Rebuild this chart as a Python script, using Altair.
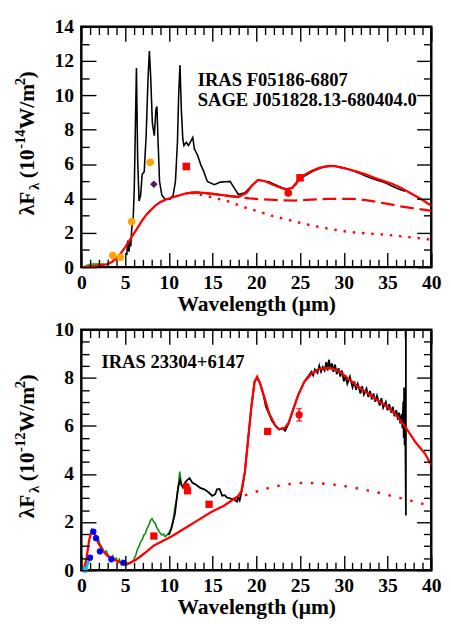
import altair as alt
import pandas as pd

# ---------------- top panel (IRAS F05186-6807) ----------------
spec1_x = [5.2, 5.3, 5.45, 5.55, 5.65, 5.77, 5.92, 6.05, 6.15, 6.3, 6.44, 6.6, 6.78, 6.96, 7.19, 7.41,
           7.63, 7.78, 7.93, 8.12, 8.34, 8.53, 8.64, 8.75, 8.94, 9.2, 9.57, 10.13, 10.5, 10.76, 10.99,
           11.13, 11.28, 11.43, 11.6, 11.73, 12.0, 12.25, 12.55, 12.74, 12.92, 13.3, 13.67, 14.0, 14.4,
           15.2, 15.9, 16.5, 17.0, 17.6, 17.95, 18.7, 19.4, 20.2, 20.6, 21.0, 21.5, 21.9, 22.5, 23.0,
           23.5, 24.0, 24.5, 25.0, 25.5, 26.0, 26.5, 27.0, 27.5, 28.0, 28.5, 29.0, 29.5, 30.0, 30.5,
           31.0, 31.5, 32.0, 32.5, 33.0, 33.5, 34.0, 34.5, 35.0, 35.5, 36.0, 36.5, 37.0]
spec1_y = [0.7, 1.55, 0.9, 1.5, 1.2, 2.3, 2.7, 4.5, 7.3, 11.6, 6.3, 3.85, 4.2, 5.4, 5.55, 7.65,
           11.06, 12.58, 11.06, 8.4, 7.65, 9.2, 9.35, 7.65, 5.0, 4.2, 3.95, 3.95, 4.2, 5.0, 7.3,
           10.1, 11.76, 9.2, 7.46, 7.08, 7.27, 7.08, 7.36, 7.55, 6.89, 6.5, 5.94, 5.56, 4.99,
           4.8, 4.95, 4.97, 4.99, 4.51, 4.23, 4.33, 4.71, 5.08, 5.05, 5.0, 4.95, 4.86, 4.72, 4.61,
           4.55, 4.6, 4.8, 5.18, 5.3, 5.45, 5.6, 5.7, 5.8, 5.85, 5.88, 5.87, 5.83, 5.78, 5.72,
           5.63, 5.52, 5.42, 5.3, 5.2, 5.12, 5.03, 4.96, 4.85, 4.72, 4.6, 4.5, 4.42]

model1_x = [0, 0.5, 1, 1.5, 2, 2.5, 3, 3.5, 4, 4.5, 5, 5.5, 6, 6.5, 7, 7.5, 8, 8.5, 9, 9.5, 10, 11,
            12, 13, 14, 15.5, 17, 17.95, 18.9, 19.5, 20.2, 21, 21.9, 22.7, 23.4, 24.1, 25.0, 25.6,
            26.3, 27.2, 28.2, 29.0, 29.7, 30.5, 31.5, 32.5, 33.5, 34.5, 35.5, 36.5, 37.5, 38.5, 39.3, 40]
model1_y = [0, 0.02, 0.05, 0.08, 0.1, 0.13, 0.18, 0.3, 0.5, 0.8, 1.15, 1.55, 1.95, 2.35, 2.75, 3.1,
            3.35, 3.6, 3.78, 3.9, 4.0, 4.15, 4.3, 4.35, 4.33, 4.23, 4.14, 4.08, 4.33, 4.75, 5.08, 5.0,
            4.8, 4.64, 4.51, 4.61, 5.18, 5.4, 5.6, 5.78, 5.9, 5.88, 5.79, 5.7, 5.56, 5.4, 5.2, 5.02,
            4.85, 4.62, 4.35, 4.05, 3.82, 3.57]

dash1_x = [12, 13, 14, 15.5, 17, 18.1, 19.2, 20.7, 22.6, 23.4, 24.4, 26.3, 28.1, 29.7, 31.1, 32.5,
           33.7, 35, 36.7, 38, 39.3, 40]
dash1_y = [4.3, 4.35, 4.33, 4.23, 4.13, 4.08, 4.0, 3.95, 3.9, 3.89, 3.88, 3.93, 3.98, 3.98, 3.97,
           3.9, 3.8, 3.68, 3.52, 3.42, 3.33, 3.27]

dot1_x = [12.5, 13.85, 15.5, 17, 18.5, 20, 21.7, 23.2, 24.7, 26.3, 27.8, 29.5, 31, 33, 35, 37, 39, 40]
dot1_y = [4.33, 4.2, 4.0, 3.8, 3.5, 3.28, 3.0, 2.81, 2.62, 2.43, 2.28, 2.13, 2.03, 1.95, 1.88,
          1.77, 1.66, 1.6]

green1_x = [0.5, 0.9, 1.25, 1.65, 2.2, 2.5]
green1_y = [0.05, 0.12, 0.15, 0.15, 0.17, 0.15]

orange1_x = [3.6, 4.46, 5.76, 7.88]
orange1_y = [0.68, 0.57, 2.64, 6.1]
purple1_x = [8.29]
purple1_y = [4.83]
redsq1_x = [12.0, 25.0]
redsq1_y = [5.86, 5.2]
redci1_x = [23.65]
redci1_y = [4.32]

label1_x = [13.3, 13.3]
label1_y = [10.87, 9.74]
label1_t = ["IRAS F05186-6807", "SAGE J051828.13-680404.0"]

# ---------------- bottom panel (IRAS 23304+6147) ----------------
spec2_x = [10.0, 10.3, 10.7, 11.06, 11.3, 11.45, 11.6, 11.8, 12.0, 12.2, 12.37, 12.55, 12.7, 13.0,
           13.3, 13.6, 14.04, 14.3, 14.6, 14.97, 15.3, 15.5, 15.8, 16.1, 16.4, 16.65, 16.9, 17.2,
           17.4, 17.6, 17.8, 17.95, 18.1, 18.3, 18.5, 18.7, 19.07, 19.44, 19.8, 20.1, 20.4, 20.8,
           21.1, 21.45, 21.8, 22.2, 22.6, 23.0, 23.3, 23.7, 24.2, 24.8, 25.5, 26.0, 26.3, 26.5,
           26.7, 27.0, 27.2, 27.4, 27.6, 27.8, 28.0, 28.15, 28.3, 28.5, 28.65, 28.8, 29.0, 29.2,
           29.4, 29.6, 29.8, 30.0, 30.2, 30.4, 30.7, 31.0, 31.2, 31.4, 31.6, 31.9, 32.1, 32.3,
           32.6, 32.8, 33.0, 33.2, 33.4, 33.6, 33.8, 34.1, 34.3, 34.5, 34.8, 35.0, 35.2, 35.4,
           35.6, 35.8, 36.0, 36.2, 36.3, 36.45, 36.6, 36.7, 36.8, 36.85, 36.9, 36.95, 37.0, 37.05,
           37.1, 37.1]
spec2_y = [1.46, 1.73, 2.34, 3.43, 3.75, 3.55, 3.45, 3.62, 3.7, 3.78, 3.83, 3.72, 3.63, 3.58,
           3.5, 3.42, 3.36, 3.3, 3.22, 3.09, 3.16, 3.36, 3.38, 3.1, 3.12, 3.02, 3.0, 2.95,
           2.98, 2.89, 2.85, 3.02, 2.9, 3.22, 3.6, 4.1, 5.46, 6.8, 7.83, 8.0, 7.8, 7.3,
           6.8, 6.5, 6.2, 6.0, 5.85, 5.9, 5.8, 6.1, 6.65, 7.3, 7.85, 8.1, 8.25, 8.1,
           8.35, 8.2, 8.5, 8.25, 8.45, 8.3, 8.65, 8.3, 8.75, 8.35, 8.6, 8.25, 8.55, 8.15,
           8.4, 8.05, 8.3, 7.85, 8.1, 7.75, 8.05, 7.6, 7.85, 7.5, 7.75, 7.35, 7.65, 7.3,
           7.55, 7.2, 7.45, 7.1, 7.35, 7.0, 7.25, 6.85, 7.15, 6.75, 7.0, 6.65, 6.9, 6.55,
           6.8, 6.4, 6.65, 6.25, 6.55, 6.1, 6.5, 5.9, 7.0, 5.5, 7.6, 5.2, 7.2, 4.9,
           2.27, 10.5]

model2_x = [0.26, 0.45, 0.63, 0.9, 1.19, 1.49, 1.94, 2.5, 3.05, 3.8, 4.55, 5.29, 6.03, 6.78, 7.5,
            8.27, 8.8, 10.3, 11.8, 13.3, 14.8, 16.3, 17.4, 17.95, 18.3, 18.7, 19.07, 19.44, 19.8,
            20.1, 20.5, 21.0, 21.45, 22.2, 22.6, 23.3, 23.7, 24.2, 24.8, 25.5, 26.3, 27.2, 28.5,
            29.6, 30.7, 31.9, 33.0, 34.1, 35.2, 36.1, 37.1, 38.2, 39.3, 40]
model2_y = [0.04, 0.25, 0.58, 1.26, 1.67, 1.53, 1.13, 0.78, 0.58, 0.42, 0.31, 0.28, 0.38, 0.58,
            0.78, 1.02, 1.12, 1.4, 1.73, 2.07, 2.41, 2.68, 2.95, 3.09, 3.29, 4.1, 5.46, 6.8, 7.83,
            8.05, 7.7, 7.1, 6.54, 6.0, 5.86, 5.93, 6.13, 6.68, 7.29, 7.83, 8.17, 8.37, 8.41,
            8.24, 7.9, 7.56, 7.29, 7.01, 6.74, 6.4, 5.93, 5.32, 4.84, 4.37]

dot2_x = [17.5, 18, 19, 20, 21, 22, 23, 24, 25, 26, 27, 28, 29, 30, 31, 32, 33, 34, 35, 36, 37,
          38, 39, 40]
dot2_y = [2.95, 3.02, 3.15, 3.27, 3.38, 3.47, 3.54, 3.59, 3.62, 3.63, 3.62, 3.59, 3.55, 3.5,
          3.44, 3.37, 3.3, 3.22, 3.13, 3.04, 2.95, 2.86, 2.76, 2.66]

green2_x = [1.1, 1.3, 1.56, 1.8, 1.94, 2.1, 2.3, 2.5, 2.68, 2.85, 3.05, 3.2, 3.4, 3.6, 3.8, 4.0,
            4.17, 4.35, 4.55, 4.7, 4.9, 5.1, 5.4, 5.7, 6.0, 6.2, 6.4, 6.6, 6.8, 7.0, 7.15, 7.3,
            7.5, 7.7, 7.9, 8.08, 8.3, 8.45, 8.6, 8.8, 9.0, 9.2, 9.4, 9.57, 9.75, 9.94, 10.1,
            10.3, 10.5, 10.7, 10.9, 11.06, 11.25, 11.43]
green2_y = [1.55, 1.62, 1.5, 1.35, 1.33, 1.1, 0.99, 0.85, 0.72, 0.8, 0.65, 0.55, 0.52, 0.6, 0.42,
            0.5, 0.31, 0.45, 0.24, 0.4, 0.31, 0.2, 0.25, 0.3, 0.45, 0.6, 0.85, 1.0, 1.19, 1.3,
            1.46, 1.5, 1.73, 1.85, 2.07, 2.14, 2.0, 1.94, 1.8, 1.67, 1.55, 1.46, 1.5, 1.4, 1.45,
            1.53, 1.6, 1.8, 2.1, 2.6, 3.0, 3.43, 4.1, 3.56]

cyan2_x = [0.42, 0.6, 0.9]
cyan2_y = [0.02, 0.15, 0.45]
blue2_x = [1.0, 1.38, 1.68, 2.12, 3.43, 4.84]
blue2_y = [0.52, 1.6, 1.33, 0.78, 0.45, 0.31]
redsq2_x = [8.29, 12.15, 14.6, 21.3]
redsq2_y = [1.42, 3.3, 2.74, 5.77]
redci2_x = [12.0, 24.9]
redci2_y = [3.48, 6.46]
err2_lo = [6.2]
err2_hi = [6.72]
err2_x = [24.9]

label2_x = [2.3]
label2_y = [8.65]
label2_t = ["IRAS 23304+6147"]

# ---------------- axis tick values ----------------
x_major = [0, 5, 10, 15, 20, 25, 30, 35, 40]
x_minor = [1, 2, 3, 4, 6, 7, 8, 9, 11, 12, 13, 14, 16, 17, 18, 19, 21, 22, 23, 24,
           26, 27, 28, 29, 31, 32, 33, 34, 36, 37, 38, 39]
y1_major = [0, 2, 4, 6, 8, 10, 12, 14]
y1_minor = [1, 3, 5, 7, 9, 11, 13]
y2_major = [0, 2, 4, 6, 8, 10]
y2_minor = [0.5, 1, 1.5, 2.5, 3, 3.5, 4.5, 5, 5.5, 6.5, 7, 7.5, 8.5, 9, 9.5]

# ---------------- shared styling ----------------
W, H = 358, 246
XMAX = 40
FONT = "Liberation Serif"
MAJ, MIN = 15, 8   # tick lengths in px
CAP = 6            # error-bar cap width in px
xs = alt.Scale(domain=[0, XMAX], nice=False, zero=False)


def df(xv, yv):
    return pd.DataFrame({"x": xv, "y": yv, "i": list(range(len(xv)))})


def tick_axis(orient, vals, ln):
    """Tick-only axis; negative tick length (as an expression) points the ticks inward."""
    return alt.Axis(orient=orient, values=vals, labels=False, domain=False, grid=False,
                    ticks=True, tickSize=alt.ExprRef(expr=str(-ln)), tickColor="black",
                    tickWidth=1.4, title="", zindex=1)


def panel(ymax, ymaj, ymin, exponent, layers_fn):
    ys = alt.Scale(domain=[0, ymax], nice=False, zero=False)
    X = alt.X("x:Q", scale=xs, axis=None)
    Y = alt.Y("y:Q", scale=ys, axis=None)

    def line(xv, yv, color, width, dash=None, cap="butt"):
        kw = dict(color=color, strokeWidth=width, clip=True, strokeCap=cap)
        if dash:
            kw["strokeDash"] = dash
        return alt.Chart(df(xv, yv)).mark_line(**kw).encode(x=X, y=Y, order="i:Q")

    def pts(xv, yv, color, shape, size):
        return alt.Chart(df(xv, yv)).mark_point(filled=True, color=color, shape=shape, size=size,
                                                opacity=1).encode(x=X, y=Y)

    layers = layers_fn(line, pts, X, Y)

    # axes: one labelled pair plus four tick-only pairs (inward, mirrored)
    xlab = alt.Axis(orient="bottom", values=x_major, format="d", ticks=False, domain=False,
                    grid=False, labelFlush=False, labelOverlap=False, labelFont=FONT,
                    labelFontWeight="bold", labelFontSize=20, labelColor="black", labelPadding=6,
                    title="Wavelength (μm)", titleFont=FONT, titleFontSize=22,
                    titleFontWeight="bold", titleColor="black", titlePadding=1)
    ylab = alt.Axis(orient="left", values=ymaj, format="d", ticks=False, domain=False, grid=False,
                    labelFont=FONT, labelFontWeight="bold", labelFontSize=20, labelColor="black",
                    labelPadding=8, title="")
    pairs = [
        (xlab, ylab),
        (tick_axis("bottom", x_major, MAJ), tick_axis("left", ymaj, MAJ)),
        (tick_axis("bottom", x_minor, MIN), tick_axis("left", ymin, MIN)),
        (tick_axis("top", x_major, MAJ), tick_axis("right", ymaj, MAJ)),
        (tick_axis("top", x_minor, MIN), tick_axis("right", ymin, MIN)),
    ]
    carrier = pd.DataFrame({"x": [0.0], "y": [0.0]})
    for ax, ay in pairs:
        layers.append(alt.Chart(carrier).mark_point(opacity=0).encode(
            x=alt.X("x:Q", scale=xs, axis=ax), y=alt.Y("y:Q", scale=ys, axis=ay)))

    # y-axis title with sub/superscripts
    base = 193
    pieces = [("λF", 22, -48, 0), ("λ", 15, -43, 26), ("(10", 22, -48, 38),
              (exponent, 15, -58, 68), ("W/m", 22, -48, 88), ("2", 15, -58, 133), (")", 22, -48, 140)]
    one = pd.DataFrame({"k": [0]})
    for txt, fs, px, d in pieces:
        layers.append(alt.Chart(one).mark_text(
            text=txt, font=FONT, fontWeight="bold", fontSize=fs, angle=270, align="left",
            baseline="alphabetic", color="black").encode(x=alt.value(px), y=alt.value(base - d)))

    return alt.layer(*layers).resolve_axis(x="independent", y="independent").properties(
        width=W, height=H)


def top_layers(line, pts, X, Y):
    L = [
        line(green1_x, green1_y, "#22cc22", 3, cap="round"),
        line(spec1_x, spec1_y, "black", 1.6),
        line(model1_x, model1_y, "#ff0000", 2.3),
        line(dash1_x, dash1_y, "#ff0000", 2.3, dash=[14, 6]),
        line(dot1_x, dot1_y, "#ff0000", 2.5, dash=[2.5, 7]),
        pts(orange1_x, orange1_y, "#ffa500", "circle", 60),
        pts(purple1_x, purple1_y, "#5c1850", "diamond", 60),
        pts(redsq1_x, redsq1_y, "#ff0000", "square", 60),
        pts(redci1_x, redci1_y, "#ff0000", "circle", 60),
    ]
    lab = pd.DataFrame({"x": label1_x, "y": label1_y, "t": label1_t})
    L.append(alt.Chart(lab).mark_text(font=FONT, fontWeight="bold", fontSize=19, align="left",
                                       baseline="middle", color="black")
             .encode(x=X, y=Y, text="t:N"))
    return L


def bottom_layers(line, pts, X, Y):
    L = [
        line(cyan2_x, cyan2_y, "#00c0ff", 3, cap="round"),
        line(green2_x, green2_y, "#118811", 1.6),
        line(spec2_x, spec2_y, "black", 1.8),
        line(model2_x, model2_y, "#ff0000", 2.3),
        line(dot2_x, dot2_y, "#ff0000", 2.5, dash=[2.5, 9]),
        pts(cyan2_x[:1], cyan2_y[:1], "#00c0ff", "circle", 40),
        pts(blue2_x, blue2_y, "#0000ff", "circle", 40),
        pts(redsq2_x, redsq2_y, "#ff0000", "square", 55),
        pts(redci2_x, redci2_y, "#ff0000", "circle", 55),
    ]
    eb = pd.DataFrame({"x": err2_x, "y": err2_lo, "y2": err2_hi})
    L.append(alt.Chart(eb).mark_rule(color="#ff0000", strokeWidth=1.5)
             .encode(x=X, y=Y, y2="y2:Q"))
    caps = pd.DataFrame({"x": err2_x * 2, "y": err2_lo + err2_hi})
    L.append(alt.Chart(caps).mark_tick(color="#ff0000", orient="horizontal", size=CAP,
                                       thickness=1.5).encode(x=X, y=Y))
    lab = pd.DataFrame({"x": label2_x, "y": label2_y, "t": label2_t})
    L.append(alt.Chart(lab).mark_text(font=FONT, fontWeight="bold", fontSize=19, align="left",
                                       baseline="middle", color="black")
             .encode(x=X, y=Y, text="t:N"))
    return L


top = panel(14, y1_major, y1_minor, "-14", top_layers)
bottom = panel(10, y2_major, y2_minor, "-12", bottom_layers)

chart = alt.vconcat(top, bottom, spacing=64, bounds="flush").properties(
    padding={"left": 3, "top": 0, "right": 0, "bottom": 0}, background="white"
).configure_view(stroke="black", strokeWidth=2.5)

chart.save("out.html", embed_options={"renderer": "svg", "actions": False})
